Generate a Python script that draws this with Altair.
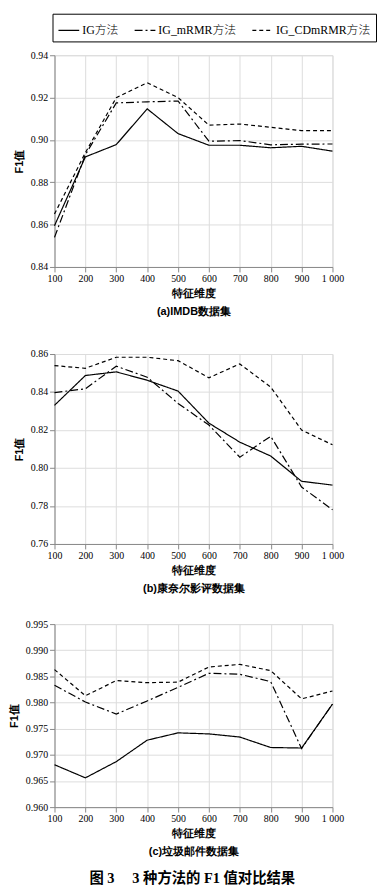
import altair as alt
import pandas as pd

FONT = "Liberation Serif, Noto Sans CJK SC"
NUMFONT = "Liberation Serif"

x_dims = [100, 200, 300, 400, 500, 600, 700, 800, 900, 1000]
methods = ["IG方法", "IG_mRMR方法", "IG_CDmRMR方法"]

# (a) IMDB
imdb_ig = [0.8595, 0.892, 0.8978, 0.9147, 0.903, 0.8975, 0.8975, 0.8963, 0.897, 0.8947]
imdb_mrmr = [0.854, 0.893, 0.9175, 0.918, 0.9184, 0.8994, 0.8997, 0.8977, 0.898, 0.8981]
imdb_cd = [0.865, 0.894, 0.920, 0.927, 0.920, 0.907, 0.9075, 0.906, 0.9044, 0.9044]

# (b) Cornell movie reviews
cornell_ig = [0.833, 0.8487, 0.8506, 0.8462, 0.8405, 0.8236, 0.8136, 0.8063, 0.793, 0.791]
cornell_mrmr = [0.8397, 0.8417, 0.8536, 0.8478, 0.834, 0.8226, 0.8057, 0.8167, 0.790, 0.778]
cornell_cd = [0.8539, 0.8525, 0.8583, 0.8583, 0.8565, 0.8475, 0.8548, 0.8426, 0.820, 0.8122]

# (c) Spam
spam_ig = [0.9681, 0.9656, 0.9687, 0.9728, 0.9742, 0.9740, 0.9734, 0.9714, 0.9713, 0.9797]
spam_mrmr = [0.9833, 0.9801, 0.9778, 0.9803, 0.9829, 0.9856, 0.9854, 0.984, 0.9712, 0.9797]
spam_cd = [0.9863, 0.9813, 0.9842, 0.9838, 0.9839, 0.9868, 0.9873, 0.9861, 0.9807, 0.9822]

ticks_a = [0.84, 0.86, 0.88, 0.90, 0.92, 0.94]
ticks_b = [0.76, 0.78, 0.80, 0.82, 0.84, 0.86]
ticks_c = [0.960, 0.965, 0.970, 0.975, 0.980, 0.985, 0.990, 0.995]

x_title = "特征维度"
subtitles = ["(a)IMDB数据集", "(b)康奈尔影评数据集", "(c)垃圾邮件数据集"]
caption = "图 3　 3 种方法的 F1 值对比结果"


def make_df(ig, mrmr, cd):
    rows = []
    for m, vals in zip(methods, [ig, mrmr, cd]):
        for xv, yv in zip(x_dims, vals):
            rows.append({"x": xv, "y": yv, "method": m})
    return pd.DataFrame(rows)


dash_scale = alt.Scale(domain=methods, range=[[1, 0], [8, 3, 2, 3], [4, 3]])


def panel(df, ticks, fmt, sub, height, show_legend, ytitle_pad):
    legend = alt.Legend(
        title=None, orient="none", legendX=-2, legendY=-42, direction="horizontal",
        strokeColor="black", padding=5,
        symbolType="stroke", symbolStrokeColor="black", symbolStrokeWidth=1.2,
        symbolSize=440, labelFont=FONT, labelFontSize=12, labelColor="black",
        labelFontWeight=300, columnPadding=13, labelOffset=2,
    ) if show_legend else None
    return alt.Chart(df).mark_line(color="black", strokeWidth=1.2).encode(
        x=alt.X("x:Q", scale=alt.Scale(domain=[100, 1000], nice=False, zero=False),
                axis=alt.Axis(values=x_dims, title=[x_title, sub], labelOverlap=False,
                              labelFlush=False, labelFont=NUMFONT,
                              labelExpr="datum.value == 1000 ? '1 000' : datum.label",
                              format="d", titlePadding=4, titleLineHeight=18)),
        y=alt.Y("y:Q", scale=alt.Scale(domain=[ticks[0], ticks[-1]], nice=False, zero=False),
                axis=alt.Axis(values=ticks, format=fmt, title="F1值", titlePadding=ytitle_pad,
                              labelOverlap=False, labelFont=NUMFONT)),
        strokeDash=alt.StrokeDash("method:N", scale=dash_scale, legend=legend, sort=methods),
    ).properties(width=281, height=height)


pa = panel(make_df(imdb_ig, imdb_mrmr, imdb_cd), ticks_a, ".2f", subtitles[0], 214, True, 6)
pb = panel(make_df(cornell_ig, cornell_mrmr, cornell_cd), ticks_b, ".2f", subtitles[1], 192, False, 6)
pc = panel(make_df(spam_ig, spam_mrmr, spam_cd), ticks_c, ".3f", subtitles[2], 185, False, 6)

inner = alt.vconcat(pb, pc, spacing=24)
chart = alt.vconcat(pa, inner, spacing=31).properties(
    padding=0,
    title=alt.TitleParams(caption, orient="bottom", anchor="middle", font=FONT,
                          fontSize=14.5, fontWeight="bold", offset=15, color="black"),
).configure_view(stroke=None).configure_axis(
    grid=False, domainColor="black", tickColor="black", tickSize=4,
    labelFontSize=12, labelColor="black", labelPadding=2,
    titleFont=FONT, titleFontSize=12, titleFontWeight=300, titleColor="black",
).configure(background="white")

chart.save("out.html", embed_options={"renderer": "svg", "actions": False})
